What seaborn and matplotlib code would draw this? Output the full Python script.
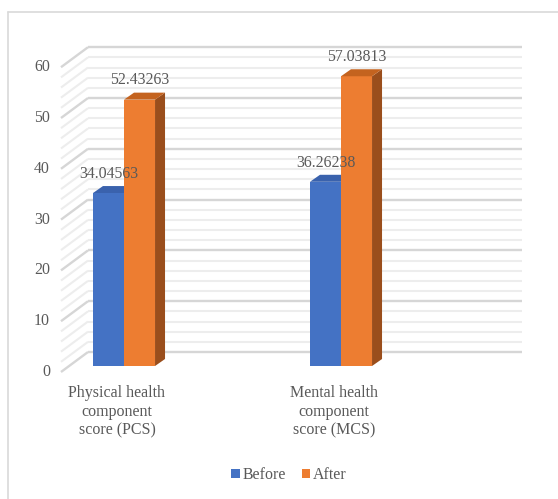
import matplotlib
matplotlib.use("Agg")
import matplotlib.pyplot as plt
import matplotlib.transforms as mtransforms
from matplotlib.patches import Polygon, Patch
from matplotlib.lines import Line2D
import numpy as np
import pandas as pd
import seaborn as sns

# ---- data ----
categories = ["Physical health\ncomponent\nscore (PCS)", "Mental health\ncomponent\nscore (MCS)"]
periods = ["Before", "After"]
before_scores = [34.04563, 36.26238]
after_scores = [52.43263, 57.03813]
y_ticks = [0, 10, 20, 30, 40, 50, 60]
value_labels = ["34.04563", "36.26238", "52.43263", "57.03813"]

front_colors = {"Before": "#4472C4", "After": "#ED7D31"}
top_colors = {"Before": "#3A62AD", "After": "#C4631F"}
side_colors = {"Before": "#2F5597", "After": "#9A4E1C"}
text_color = "#595959"

df = pd.DataFrame({
    "category": categories * 2,
    "period": ["Before"] * 2 + ["After"] * 2,
    "score": before_scores + after_scores,
})

sns.set_theme(style="white")
plt.rcParams["font.family"] = ["Liberation Serif", "DejaVu Serif"]

W, H, DPI = 558, 499, 100
fig = plt.figure(figsize=(W / DPI, H / DPI), dpi=DPI)
fig.patch.set_facecolor("white")

# plotting plane of the bars (pixels): x 69..503, value 0 at y=366, 60 at y~61
px_left, px_right = 69, 503
base_y, ymax_px = 366, 304.8
ax = fig.add_axes([px_left / W, (H - base_y) / H, (px_right - px_left) / W, ymax_px / H])
ax.set_facecolor("none")

sns.barplot(data=df, x="category", y="score", hue="period", hue_order=periods,
            order=categories, palette=front_colors, width=0.286, saturation=1,
            legend=False, ax=ax, edgecolor="none", linewidth=0, zorder=1)

px_per_unit = 217.0
xl = -(124 - px_left) / px_per_unit
xr = xl + (px_right - px_left) / px_per_unit
ax.set_xlim(xl, xr)
ax.set_ylim(0, 60)
ax.axis("off")

dx_unit = 1 / px_per_unit          # data x per pixel
dy_unit = 60 / ymax_px             # data y per pixel

# back wall: shifted up-right from the bar plane
back = ax.transData + mtransforms.ScaledTranslation(19 / DPI, 14 / DPI, fig.dpi_scale_trans)
for v in np.arange(0, 61, 2):
    major = v % 10 == 0
    col = "#D6D6D6" if major else "#EDEDED"
    lw = 1.7 if major else 1.5
    ax.hlines(v, xl, xr, colors=col, linewidth=lw, transform=back, zorder=0, clip_on=False)
    # left side wall
    ax.plot([xl - 8 * dx_unit, xl + 19 * dx_unit],
            [v - 6 * dy_unit, v + 14 * dy_unit],
            color=col, linewidth=lw, zorder=0, clip_on=False, solid_capstyle="butt")

# 3D faces on each bar
ddx, ddy = 10 * dx_unit, 7 * dy_unit
bars = list(ax.patches)
for i, p in enumerate(bars):
    period = "Before" if i < len(categories) else "After"
    x0, w, h = p.get_x(), p.get_width(), p.get_height()
    z = 0.5 if period == "Before" else 2
    top = Polygon([(x0, h), (x0 + w, h), (x0 + w + ddx, h + ddy), (x0 + ddx, h + ddy)],
                  closed=True, facecolor=top_colors[period], edgecolor="none", zorder=z,
                  clip_on=False)
    side = Polygon([(x0 + w, 0), (x0 + w + ddx, ddy), (x0 + w + ddx, h + ddy), (x0 + w, h)],
                   closed=True, facecolor=side_colors[period], edgecolor="none", zorder=z,
                   clip_on=False)
    ax.add_patch(side)
    ax.add_patch(top)
    p.set_clip_on(False)

# value labels above each bar
for p, lab in zip(bars, value_labels):
    x0, w, h = p.get_x(), p.get_width(), p.get_height()
    ax.annotate(lab, (x0 + w / 2, h + ddy), xytext=(0, 3), textcoords="offset points",
                ha="center", va="bottom", fontsize=11.4, color=text_color, zorder=5,
                annotation_clip=False)

# value axis labels on the front edge of the side wall
front_lbl = ax.transData + mtransforms.ScaledTranslation(-19 / DPI, -6 / DPI, fig.dpi_scale_trans)
for t in y_ticks:
    ax.text(xl, t, str(t), transform=front_lbl, ha="right", va="center",
            fontsize=11.4, color=text_color, clip_on=False)

# category labels
cat_tr = ax.transData + mtransforms.ScaledTranslation(-7 / DPI, -19 / DPI, fig.dpi_scale_trans)
for i, c in enumerate(categories):
    ax.text(i, 0, c, transform=cat_tr, ha="center", va="top", fontsize=11.5,
            color=text_color, linespacing=1.22, clip_on=False)

# legend
handles = [Patch(facecolor=front_colors[p], edgecolor="none", label=p) for p in periods]
fig.legend(handles=handles, loc="center", bbox_to_anchor=(289 / W, 1 - 475 / H),
           ncol=2, frameon=False, fontsize=11.4, handlelength=0.55, handleheight=0.55,
           handletextpad=0.15, columnspacing=1.0, labelcolor=text_color)

# chart area border
fig.add_artist(Line2D([8 / W, 8 / W], [0, 1 - 12 / H], transform=fig.transFigure,
                      color="#D9D9D9", linewidth=1.2))
fig.add_artist(Line2D([8 / W, 1], [1 - 12 / H, 1 - 12 / H], transform=fig.transFigure,
                      color="#D9D9D9", linewidth=1.2))

fig.savefig("out.png", dpi=DPI)
